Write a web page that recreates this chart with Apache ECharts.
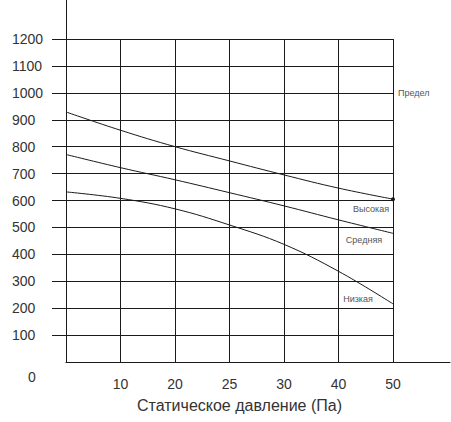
<!DOCTYPE html>
<html>
<head>
<meta charset="utf-8">
<script src="https://cdn.jsdelivr.net/npm/echarts@6/dist/echarts.min.js"></script>
<style>html,body{margin:0;padding:0;background:#fff;}#c{width:451px;height:422px;}</style>
</head>
<body>
<div id="c"></div>
<script>
// Data
const categories = ['0', '10', '20', '25', '30', '40', '50'];
const highValues = [929, 861, 800, 747, 695, 646, 605];
const mediumValues = [771, 722, 677, 629, 580, 528, 478];
const lowValues = [632, 608, 569, 509, 437, 337, 216];
const seriesNames = ['Высокая', 'Средняя', 'Низкая'];
const limitValue = 1000;
const limitName = 'Предел';
const yTickValues = [100, 200, 300, 400, 500, 600, 700, 800, 900, 1000, 1100, 1200];
const xAxisName = 'Статическое давление (Па)';

const lineColor = '#1a1a1a';
const last = categories.length - 1;
const font = 'Liberation Sans, Arial, sans-serif';

function makeSeries(name, values, dotSize, labelOffset, extra) {
  const s = {
    type: 'line',
    name: name,
    xAxisIndex: 0,
    yAxisIndex: 0,
    smooth: 0.4,
    symbol: 'circle',
    showSymbol: true,
    symbolSize: function (v, p) { return p.dataIndex === last ? dotSize : 0; },
    itemStyle: { color: lineColor },
    lineStyle: { color: lineColor, width: 1 },
    silent: true,
    data: values.map(function (v, i) {
      if (i !== last) return v;
      return {
        value: v,
        label: {
          show: true,
          position: 'inside',
          offset: labelOffset,
          formatter: name,
          fontFamily: font,
          fontSize: 9,
          color: '#555',
          align: 'center',
          verticalAlign: 'middle'
        }
      };
    })
  };
  return Object.assign(s, extra || {});
}

const chart = echarts.init(document.getElementById('c'), null, { renderer: 'svg' });
chart.setOption({
  animation: false,
  backgroundColor: '#fff',
  grid: [
    { left: 66, right: 58, top: 39, bottom: 60 },
    { left: 66, right: 1, top: 0, bottom: 60 }
  ],
  xAxis: [
    {
      gridIndex: 0,
      type: 'category',
      data: categories,
      boundaryGap: false,
      axisLine: { show: false },
      axisTick: { show: false },
      splitLine: { show: true, interval: 0, lineStyle: { color: lineColor, width: 1 } },
      axisLabel: {
        interval: function (i) { return i !== 0; },
        margin: 15,
        fontFamily: font,
        fontSize: 14,
        color: '#333'
      },
      name: xAxisName,
      nameLocation: 'middle',
      nameGap: 35,
      nameTextStyle: { fontFamily: font, fontSize: 16, color: '#333', padding: [0, 0, 0, 20] }
    },
    {
      gridIndex: 1,
      type: 'value',
      min: 0, max: 1,
      axisLine: { show: true, lineStyle: { color: lineColor, width: 1 } },
      axisTick: { show: false },
      axisLabel: { show: false },
      splitLine: { show: false }
    }
  ],
  yAxis: [
    {
      gridIndex: 0,
      type: 'value',
      min: 0,
      max: 1200,
      interval: 100,
      axisLine: { show: false },
      axisTick: { show: true, length: 14, customValues: yTickValues, lineStyle: { color: lineColor, width: 1 } },
      splitLine: { show: true, lineStyle: { color: lineColor, width: 1 } },
      axisLabel: {
        align: 'left',
        margin: 54,
        fontFamily: font,
        fontSize: 14,
        color: '#333',
        formatter: function (v) { return v === 0 ? '{z|0}' : String(v); },
        rich: {
          z: { fontFamily: font, fontSize: 14, color: '#333', padding: [30, 0, 0, 16] }
        }
      }
    },
    {
      gridIndex: 1,
      type: 'value',
      min: 0, max: 1,
      axisLine: { show: true, lineStyle: { color: lineColor, width: 1 } },
      axisTick: { show: false },
      axisLabel: { show: false },
      splitLine: { show: false }
    }
  ],
  series: [
    makeSeries(seriesNames[0], highValues, 4, [-22, 10], {
      markLine: {
        silent: true,
        symbol: 'none',
        animation: false,
        lineStyle: { color: lineColor, width: 1, type: 'solid' },
        label: { show: true, position: 'end', distance: 5, formatter: limitName, fontFamily: font, fontSize: 9, color: '#555' },
        data: [{ yAxis: limitValue }]
      }
    }),
    makeSeries(seriesNames[1], mediumValues, 0, [-29, 7]),
    makeSeries(seriesNames[2], lowValues, 0, [-35, -5])
  ]
});
</script>
</body>
</html>
